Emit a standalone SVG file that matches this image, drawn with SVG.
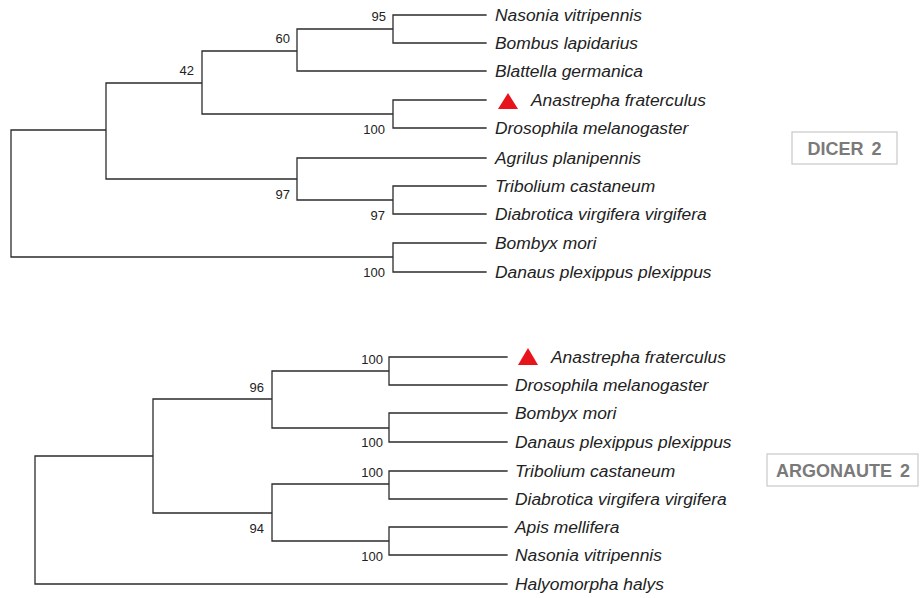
<svg xmlns="http://www.w3.org/2000/svg" width="922" height="598" viewBox="0 0 922 598">
<style>
.br{fill:none;stroke:#2b2b2b;stroke-width:1.3;stroke-linecap:square}
.sp{font-family:"Liberation Sans",Arial,sans-serif;font-style:italic;font-size:17.4px;fill:#222}
.bs{font-family:"Liberation Sans",Arial,sans-serif;font-size:13px;fill:#222;text-anchor:end}
.tri{fill:#e8141b}
.box{fill:#fff;stroke:#c8c8c8;stroke-width:1.2}
.ttl{font-family:"Liberation Sans",Arial,sans-serif;font-weight:bold;font-size:18px;fill:#7a7a7a;text-anchor:middle;word-spacing:3px}
</style>
<rect width="922" height="598" fill="#fff"/>
<g id="connectors">
<path class="br" d="M11,130V257M11,130H106M11,257H393M106,83V179M106,83H202M106,179H297M202,51V114M202,51H297M202,114H393M297,29V71M297,29H393M297,71H486M393,15V43M393,15H486M393,43H486M393,100V128M393,100H486M393,128H486M297,158V200M297,158H486M297,200H393M393,186V214M393,186H486M393,214H486M393,243V272M393,243H486M393,272H486"/>
<path class="br" d="M35,456V584M35,456H153M35,584H507M153,399V513M153,399H272M153,513H272M272,371V428M272,371H389M272,428H389M389,357V385M389,357H507M389,385H507M389,413V442M389,413H507M389,442H507M272,484V541M272,484H389M272,541H389M389,471V499M389,471H507M389,499H507M389,527V555M389,527H507M389,555H507"/>
</g>
<g id="dicer-tree">
<g id="d-bootstrap">
<text class="bs" x="386" y="21">95</text>
<text class="bs" x="290" y="43">60</text>
<text class="bs" x="194" y="75">42</text>
<text class="bs" x="385" y="134">100</text>
<text class="bs" x="290" y="199">97</text>
<text class="bs" x="385" y="220">97</text>
<text class="bs" x="385" y="277">100</text>
</g>
<g id="d-leaves">
<text class="sp" x="495" y="21">Nasonia vitripennis</text>
<text class="sp" x="495" y="49">Bombus lapidarius</text>
<text class="sp" x="495" y="77">Blattella germanica</text>
<polygon class="tri" points="508,93 498,109 518,109"/>
<text class="sp" x="531" y="106">Anastrepha fraterculus</text>
<text class="sp" x="495" y="134">Drosophila melanogaster</text>
<text class="sp" x="495" y="164">Agrilus planipennis</text>
<text class="sp" x="495" y="192">Tribolium castaneum</text>
<text class="sp" x="495" y="220">Diabrotica virgifera virgifera</text>
<text class="sp" x="495" y="249">Bombyx mori</text>
<text class="sp" x="495" y="278">Danaus plexippus plexippus</text>
</g>
<g id="dicer-label">
<rect class="box" x="792" y="132" width="105" height="32"/>
<text class="ttl" x="844.5" y="155">DICER 2</text>
</g>
</g>
<g id="ago-tree">
<g id="a-bootstrap">
<text class="bs" x="383" y="364">100</text>
<text class="bs" x="264" y="392">96</text>
<text class="bs" x="383" y="447">100</text>
<text class="bs" x="383" y="477">100</text>
<text class="bs" x="264" y="533">94</text>
<text class="bs" x="383" y="561">100</text>
</g>
<g id="a-leaves">
<polygon class="tri" points="528,348 518,365 538,365"/>
<text class="sp" x="551" y="363">Anastrepha fraterculus</text>
<text class="sp" x="515" y="391">Drosophila melanogaster</text>
<text class="sp" x="515" y="419">Bombyx mori</text>
<text class="sp" x="515" y="448">Danaus plexippus plexippus</text>
<text class="sp" x="515" y="477">Tribolium castaneum</text>
<text class="sp" x="515" y="505">Diabrotica virgifera virgifera</text>
<text class="sp" x="515" y="533">Apis mellifera</text>
<text class="sp" x="515" y="561">Nasonia vitripennis</text>
<text class="sp" x="515" y="590">Halyomorpha halys</text>
</g>
<g id="ago-label">
<rect class="box" x="767" y="454" width="151" height="32"/>
<text class="ttl" x="843" y="477">ARGONAUTE 2</text>
</g>
</g>
</svg>
